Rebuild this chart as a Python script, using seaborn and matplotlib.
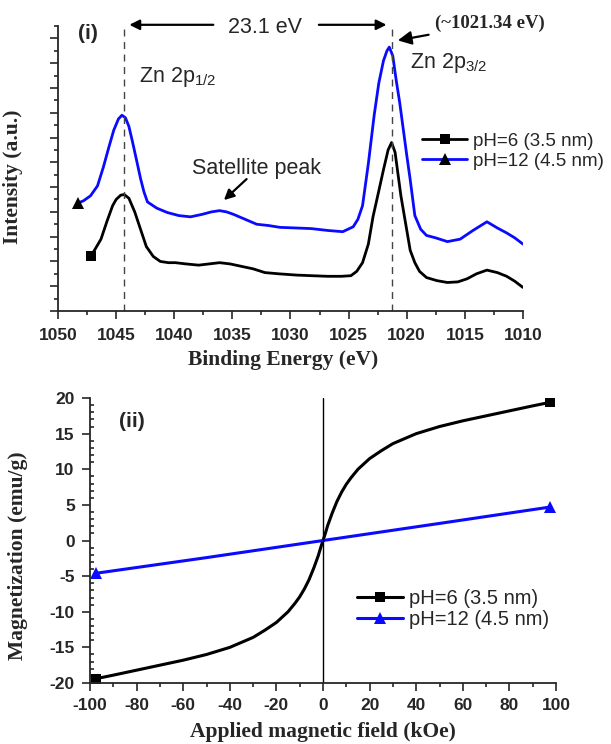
import matplotlib
matplotlib.use("Agg")
import matplotlib.pyplot as plt
from matplotlib.lines import Line2D
from matplotlib.ticker import MultipleLocator
import seaborn as sns

# (i) XPS Zn 2p spectra
energy_ph6 = [1047.2, 1046.8, 1046.3, 1045.8, 1045.3, 1045.0, 1044.6, 1044.3, 1043.9, 1043.4, 1042.9, 1042.4,
              1041.8, 1041.2, 1040.5, 1039.9, 1039.0, 1037.9, 1037.0, 1036.1, 1035.2, 1034.2, 1033.2,
              1032.2, 1031.0, 1029.5, 1028.2, 1026.8, 1025.6, 1024.8, 1024.3, 1023.8, 1023.3, 1022.9,
              1022.4, 1022.0, 1021.6, 1021.3, 1021.0, 1020.8, 1020.5, 1020.1, 1019.7, 1019.3, 1018.9,
              1018.3, 1017.4, 1016.5, 1015.6, 1014.8, 1014.0, 1013.1, 1012.2, 1011.4, 1010.7, 1010.0]
intensity_ph6 = [4.4, 5.0, 5.8, 7.2, 8.5, 9.0, 9.35, 9.4, 9.1, 8.0, 6.6, 5.2,
                 4.4, 4.0, 3.9, 3.9, 3.8, 3.7, 3.8, 3.9, 3.8, 3.6, 3.4,
                 3.1, 3.0, 2.9, 2.85, 2.8, 2.8, 2.85, 3.2, 3.9, 5.4, 7.6,
                 9.7, 11.4, 13.0, 13.6, 12.8, 11.4, 9.3, 7.1, 4.9, 3.9, 3.2,
                 2.7, 2.45, 2.3, 2.35, 2.6, 3.0, 3.3, 3.1, 2.8, 2.4, 1.9]

energy_ph12 = [1048.3, 1047.8, 1047.2, 1046.6, 1046.1, 1045.6, 1045.2, 1044.8, 1044.5, 1044.2, 1043.9,
               1043.6, 1043.2, 1042.9, 1042.6, 1042.3, 1041.5, 1040.6, 1039.6, 1038.6, 1037.6, 1036.8,
               1036.1, 1035.5, 1034.9, 1033.9, 1032.9, 1031.9, 1030.9, 1029.5, 1028.2, 1026.8, 1025.5,
               1024.6, 1024.2, 1023.8, 1023.3, 1022.8, 1022.4, 1022.0, 1021.7, 1021.5, 1021.2, 1020.9,
               1020.6, 1020.3, 1020.0, 1019.7, 1019.3, 1018.8, 1018.3, 1017.5, 1016.5, 1015.4, 1014.3,
               1013.1, 1012.2, 1011.4, 1010.7, 1010.0]
intensity_ph12 = [8.7, 8.9, 9.3, 10.1, 11.6, 13.3, 14.6, 15.5, 15.8, 15.6, 14.9,
                  13.7, 12.0, 10.7, 9.6, 8.8, 8.3, 7.95, 7.7, 7.6, 7.8, 8.0,
                  8.1, 8.0, 7.8, 7.4, 7.0, 6.9, 6.75, 6.7, 6.65, 6.5, 6.4,
                  6.8, 7.4, 8.5, 11.9, 15.8, 18.4, 20.2, 21.0, 21.3, 20.6, 18.6,
                  16.8, 14.7, 12.6, 10.6, 7.7, 6.6, 6.1, 5.9, 5.6, 5.8, 6.5,
                  7.2, 6.7, 6.3, 5.9, 5.4]

peak_2p12 = 1044.3
peak_2p32 = 1021.3

# (ii) M-H curves
field_ph6 = [-97.5, -90, -80, -70, -60, -50, -45, -40, -35, -30, -25, -20, -15, -12, -10, -8, -6, -4, -2, -1, 0,
             1, 2, 4, 6, 8, 10, 12, 15, 20, 25, 30, 35, 40, 45, 50, 60, 70, 80, 90, 97.5]
mag_ph6 = [-19.4, -18.9, -18.2, -17.5, -16.8, -16.0, -15.5, -15.0, -14.3, -13.6, -12.6, -11.5, -10.0, -8.8, -7.9,
           -6.8, -5.5, -3.9, -2.1, -1.0, 0.0,
           1.0, 2.1, 3.9, 5.5, 6.8, 7.9, 8.8, 10.0, 11.5, 12.6, 13.6, 14.3, 15.0, 15.5, 16.0, 16.8, 17.5, 18.2,
           18.9, 19.4]
field_ph12 = [-97.5, -50, 0, 50, 97.5]
mag_ph12 = [-4.6, -2.4, 0.0, 2.4, 4.7]

labels = ["pH=6 (3.5 nm)", "pH=12 (4.5 nm)"]
colors = ["black", "#0a0aff"]

sns.set_style("ticks")
plt.rcParams["font.family"] = ["Liberation Sans", "DejaVu Sans"]
plt.rcParams["mathtext.fontset"] = "custom"
plt.rcParams["mathtext.rm"] = "Liberation Sans"
plt.rcParams["mathtext.it"] = "Liberation Sans:italic"
plt.rcParams["axes.unicode_minus"] = False

fig = plt.figure(figsize=(6.11, 7.44), dpi=100)
ax1 = fig.add_axes([0.0949, 0.582, 0.761, 0.383])
ax2 = fig.add_axes([0.1473, 0.082, 0.7627, 0.383])

serif = dict(family="Liberation Serif", fontweight="bold", fontsize=15.5)
arrow = dict(arrowstyle="-|>,head_length=0.6,head_width=0.3", color="black", lw=1.6)

# ---- panel (i)
sns.lineplot(x=energy_ph6, y=intensity_ph6, ax=ax1, color=colors[0], lw=2, sort=False,
             marker="s", markersize=7, markevery=[0], markeredgewidth=0)
sns.lineplot(x=energy_ph12, y=intensity_ph12, ax=ax1, color=colors[1], lw=2, sort=False,
             marker="^", markersize=8, markevery=[0], markerfacecolor="black", markeredgewidth=0)
ax1.set_xlim(1050, 1010)
ax1.set_ylim(0, 23)
ax1.xaxis.set_major_locator(MultipleLocator(5))
ax1.xaxis.set_minor_locator(MultipleLocator(2.5))
ax1.yaxis.set_major_locator(MultipleLocator(2))
ax1.yaxis.set_minor_locator(MultipleLocator(1))
ax1.set_yticklabels([])
ax1.tick_params(axis="both", which="major", direction="out", length=6, width=1.2, labelsize=12.5, pad=6)
ax1.tick_params(axis="both", which="minor", direction="out", length=3, width=1.2)
for lab in ax1.get_xticklabels():
    lab.set_fontweight("bold")
ax1.set_xlabel("Binding Energy (eV)", **serif)
ax1.set_ylabel("Intensity (a.u.)", **serif)
ax1.xaxis.set_label_coords(0.484, -0.137)
ax1.yaxis.set_label_coords(-0.075, 0.47)

for e in (peak_2p12, peak_2p32):
    ax1.axvline(e, color="#444444", lw=1, ls=(0, (5, 4)))

ax1.text(0.065, 0.975, "(i)", transform=ax1.transAxes, ha="center", va="center",
         fontsize=15, fontweight="bold")
ax1.text(1032.2, 22.9, "23.1 eV", ha="center", va="center", fontsize=15.5)
ax1.annotate("", xy=(1044.1, 23.1), xytext=(1036.4, 23.1), arrowprops=arrow, annotation_clip=False)
ax1.annotate("", xy=(1021.5, 23.1), xytext=(1027.8, 23.1), arrowprops=arrow, annotation_clip=False)
ax1.annotate("(~1021.34 eV)", xy=(1021.0, 21.8), xytext=(1017.6, 23.2), ha="left", va="center",
             family="Liberation Serif", fontweight="bold", fontsize=13.5, arrowprops=arrow,
             annotation_clip=False)
ax1.text(1019.7, 20.0, r"Zn 2p$_{\mathrm{3/2}}$", ha="left", va="center", fontsize=15.5)
ax1.text(1043.0, 18.9, r"Zn 2p$_{\mathrm{1/2}}$", ha="left", va="center", fontsize=15.5)
ax1.text(1032.9, 11.5, "Satellite peak", ha="center", va="center", fontsize=15.5)
ax1.annotate("", xy=(1035.9, 8.8), xytext=(1033.6, 10.8), arrowprops=arrow)

handles1 = [Line2D([], [], color=colors[0], lw=2, marker="s", ms=7, mew=0),
            Line2D([], [], color=colors[1], lw=2, marker="^", ms=8, mfc="black", mew=0)]
ax1.legend(handles1, labels, loc="center left", bbox_to_anchor=(0.691, 0.797),
           bbox_transform=fig.transFigure, frameon=False, fontsize=13.5, borderpad=0,
           borderaxespad=0, handlelength=2.4, handletextpad=0.3, labelspacing=0.15)

# ---- panel (ii)
sns.lineplot(x=field_ph6, y=mag_ph6, ax=ax2, color=colors[0], lw=2.2, sort=False,
             marker="s", markersize=7, markevery=[0, -1], markeredgewidth=0)
sns.lineplot(x=field_ph12, y=mag_ph12, ax=ax2, color=colors[1], lw=2.2, sort=False,
             marker="^", markersize=8, markevery=[0, -1], markeredgewidth=0)
ax2.axvline(0, color="black", lw=1)
ax2.set_xlim(-100, 100)
ax2.set_ylim(-20, 20)
ax2.xaxis.set_major_locator(MultipleLocator(20))
ax2.xaxis.set_minor_locator(MultipleLocator(10))
ax2.yaxis.set_major_locator(MultipleLocator(5))
ax2.yaxis.set_minor_locator(MultipleLocator(1))
ax2.tick_params(axis="both", which="major", direction="out", length=6, width=1.2, labelsize=12.5, pad=5)
ax2.tick_params(axis="x", which="minor", direction="out", length=3, width=1.2)
ax2.tick_params(axis="y", which="minor", direction="in", length=3, width=1.2)
for lab in ax2.get_xticklabels() + ax2.get_yticklabels():
    lab.set_fontweight("bold")
ax2.set_xlabel("Applied magnetic field (kOe)", **serif)
ax2.set_ylabel("Magnetization (emu/g)", **serif)
ax2.xaxis.set_label_coords(0.5, -0.137)
ax2.yaxis.set_label_coords(-0.133, 0.446)
ax2.text(0.09, 0.916, "(ii)", transform=ax2.transAxes, ha="center", va="center",
         fontsize=15, fontweight="bold")

handles2 = [Line2D([], [], color=colors[0], lw=2.2, marker="s", ms=7, mew=0),
            Line2D([], [], color=colors[1], lw=2.2, marker="^", ms=8, mew=0)]
ax2.legend(handles2, labels, loc="center left", bbox_to_anchor=(0.584, 0.182),
           bbox_transform=fig.transFigure, frameon=False, fontsize=14.5, borderpad=0,
           borderaxespad=0, handlelength=2.3, handletextpad=0.3, labelspacing=0.1)

for ax in (ax1, ax2):
    sns.despine(ax=ax)
    for s in ("left", "bottom"):
        ax.spines[s].set_linewidth(1.3)

fig.savefig("out.png", dpi=100)
